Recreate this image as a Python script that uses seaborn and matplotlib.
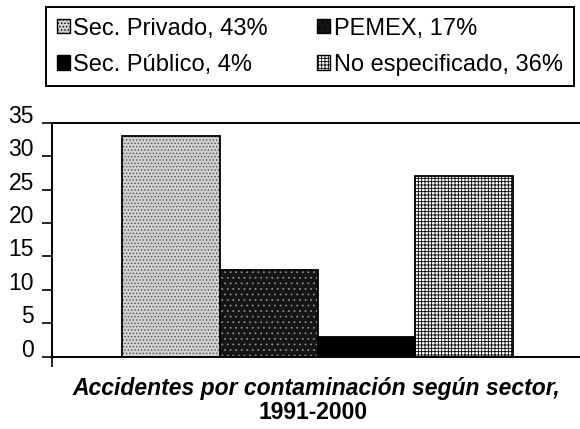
import matplotlib
matplotlib.use("Agg")
import matplotlib.pyplot as plt
from matplotlib.patches import Rectangle
import seaborn as sns
import pandas as pd

# Accidents by sector, 1991-2000
sectors = ["Sec. Privado", "PEMEX", "Sec. Público", "No especificado"]
accidents = [33, 13, 3, 27]
shares = ["43%", "17%", "4%", "36%"]
yticks = [0, 5, 10, 15, 20, 25, 30, 35]

face_colors = ["#d0d0d0", "#151515", "#000000", "#ffffff"]
hatch_colors = ["#505050", "#8a8a8a", "#000000", "#000000"]
hatches = [".....", "...", "", "+++++"]

title_line1 = "Accidentes por contaminación según sector,"
title_line2 = "1991-2000"

sns.set_theme(style="white")
plt.rcParams["font.family"] = ["Liberation Sans", "DejaVu Sans"]
plt.rcParams["hatch.linewidth"] = 0.6
plt.rcParams["text.color"] = "black"
plt.rcParams["xtick.color"] = "black"
plt.rcParams["ytick.color"] = "black"

df = pd.DataFrame({"sector": sectors, "n": accidents})

fig = plt.figure(figsize=(5.8, 4.29), dpi=100)
ax = fig.add_axes([52 / 580, 1 - 356.7 / 429, 1 - 52 / 580, (356.7 - 122.7) / 429])

sns.barplot(data=df, x="sector", y="n", hue="sector", order=sectors,
            hue_order=sectors, palette=face_colors, width=1.0, dodge=False,
            legend=False, saturation=1, ax=ax)

# texture each bar, then outline it in black
for p, fc, hc, h in zip(ax.patches[:len(sectors)], face_colors, hatch_colors, hatches):
    p.set_facecolor(fc)
    p.set_edgecolor(hc)
    p.set_hatch(h)
    p.set_linewidth(0)
    ax.add_patch(Rectangle(p.get_xy(), p.get_width(), p.get_height(),
                           fill=False, edgecolor="black", linewidth=1.3, zorder=3))

ax.set_ylim(0, 35)
ax.set_xlim(-1.221, 4.185)
ax.set_yticks(yticks)
ax.set_yticklabels([str(v) for v in yticks], fontsize=16.5, color="black")
for lab in ax.get_yticklabels():
    lab.set_verticalalignment("baseline")
ax.tick_params(axis="y", direction="out", length=7, width=1.2, pad=6,
               colors="black", left=True)
ax.set_xticks([-1.221])
ax.set_xticklabels([""])
ax.tick_params(axis="x", direction="out", length=7, width=1.2, bottom=True)
ax.set_xlabel("")
ax.set_ylabel("")

for side in ["left", "bottom", "top"]:
    ax.spines[side].set_visible(True)
    ax.spines[side].set_color("black")
    ax.spines[side].set_linewidth(1.4)
ax.spines["right"].set_visible(False)

# legend: row-major order with two columns
handles = [Rectangle((0, 0), 1, 1, facecolor=fc, edgecolor="black",
                     hatch=h, linewidth=1.0)
           for fc, h in zip(face_colors, hatches)]
labels = [f"{s}, {p}" for s, p in zip(sectors, shares)]
order = [0, 2, 1, 3]
leg = fig.legend([handles[i] for i in order], [labels[i] for i in order],
                 ncol=2, loc="upper left",
                 bbox_to_anchor=(46 / 580, 1 - 7 / 429),
                 fontsize=17, frameon=True, fancybox=False, shadow=False,
                 framealpha=1, edgecolor="black", handlelength=0.55,
                 handleheight=0.55, handletextpad=0.15, labelspacing=0.6,
                 borderpad=0.45, borderaxespad=0, columnspacing=2.1)
leg.get_frame().set_linewidth(1.4)
for t in leg.get_texts():
    t.set_color("black")

fig.text(316 / 580, 1 - 395 / 429, title_line1, ha="center", va="baseline",
         fontsize=16.5, fontweight="bold", fontstyle="italic")
fig.text(313 / 580, 1 - 419 / 429, title_line2, ha="center", va="baseline",
         fontsize=16.5, fontweight="bold")

fig.savefig("out.png", dpi=100, facecolor="white")
